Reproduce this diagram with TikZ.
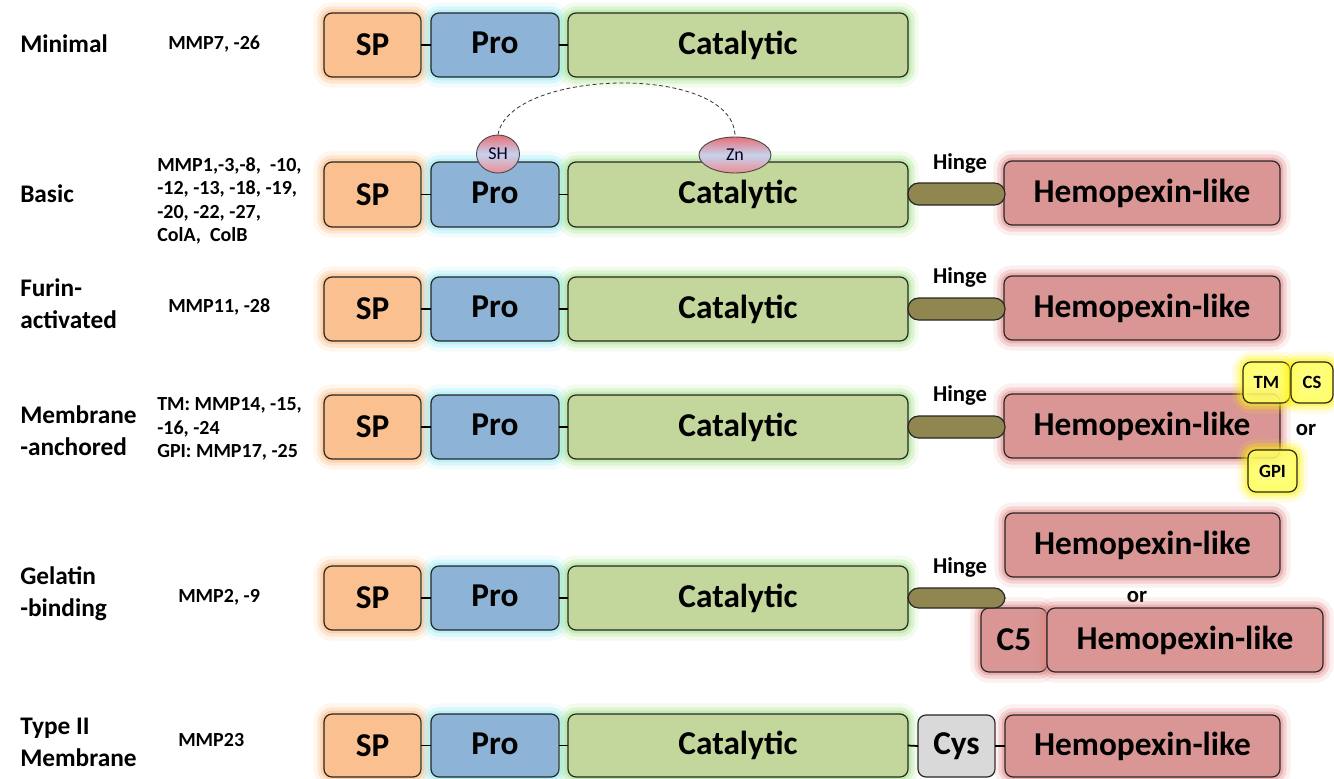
\documentclass[tikz,border=0pt]{standalone}
\usepackage{fontspec}
\setmainfont{Carlito}
\usetikzlibrary{shapes.geometric}

\definecolor{spfill}{HTML}{FAC08F}
\definecolor{profill}{HTML}{8DB4D6}
\definecolor{catfill}{HTML}{C3D69B}
\definecolor{hemfill}{HTML}{D99694}
\definecolor{hingefill}{HTML}{8F8650}
\definecolor{cysfill}{HTML}{D9D9D9}
\definecolor{anchfill}{HTML}{FFFF66}
\definecolor{ballred}{HTML}{E8707A}
\definecolor{ballblue}{HTML}{C6D2EC}

\tikzset{
  glow/.style={
    preaction={draw=#1,draw opacity=0.12,line width=16pt},
    preaction={draw=#1,draw opacity=0.25,line width=10pt},
    preaction={draw=#1,draw opacity=0.40,line width=5pt}},
  dombase/.style={draw=black!85, line width=0.9pt, rounded corners=6pt,
    inner sep=0pt, outer sep=0pt,
    font=\fontsize{25}{28}\selectfont\bfseries},
  spbox/.style={dombase, fill=spfill, glow=spfill!80!orange},
  probox/.style={dombase, fill=profill, glow=profill!50!cyan!60!white},
  catbox/.style={dombase, fill=catfill, glow=catfill!80!green},
  hembox/.style={dombase, fill=hemfill, glow=hemfill!85!red},
  cysbox/.style={dombase, fill=cysfill},
  anchbox/.style={dombase, fill=anchfill, fill opacity=0.85, text opacity=1,
    glow=yellow, font=\fontsize{14}{16}\selectfont\bfseries},
  hingeshape/.style={rectangle, rounded corners=8pt, draw=black!85,
    line width=0.9pt, fill=hingefill, inner sep=0pt, outer sep=0pt},
  ball/.style={ellipse, draw=black!70, line width=0.7pt, inner sep=0pt,
    top color=ballred, bottom color=ballred!80!white, middle color=ballblue,
    text=black!85!blue, font=\fontsize{13.5}{14}\selectfont},
  link/.style={draw=black, line width=1.3pt},
  rowname/.style={anchor=west, align=left, inner sep=0pt,
    font=\fontsize{19}{24}\selectfont\bfseries},
  members/.style={anchor=west, align=left, inner sep=0pt,
    font=\fontsize{15}{17.5}\selectfont\bfseries},
  hingetag/.style={inner sep=0pt, font=\fontsize{17}{18}\selectfont\bfseries},
  ortext/.style={inner sep=0pt, font=\fontsize{17}{20}\selectfont\bfseries}
}

% box given by its corners (x1,y1)-(x2,y2) in pixel units
\newcommand\dombox[7]{%
  \node[#6, minimum width={(#4-#2)*0.75pt}, minimum height={(#5-#3)*0.75pt}]
    (#1) at ({(#2+#4)/2},{(#3+#5)/2}) {#7};}
% labels of the signal peptide and propeptide sit a little off centre
\newcommand\splabel{\raisebox{-1.2pt}{SP}}
\newcommand\prolabel{\raisebox{3pt}{Pro}}

\begin{document}
\begin{tikzpicture}[x=0.75pt,y=-0.75pt]
\useasboundingbox (0,0) rectangle (1334,778);

% ---------- Minimal ----------
\node[rowname] (n1) at (20,44) {Minimal};
\node[members] (m1) at (168,44) {MMP7, -26};
\dombox{sp1}{324}{13}{421}{77}{spbox}{\splabel}
\dombox{pro1}{431}{13}{559}{77}{probox}{\prolabel}
\dombox{cat1}{568}{13}{908}{77}{catbox}{Catalytic}
\draw[link] (sp1.east) -- (pro1.west);
\draw[link] (pro1.east) -- (cat1.west);

% ---------- Basic ----------
\node[rowname] (n2) at (20,194) {Basic};
\node[members] (m2) at (157,201) {MMP1,-3,-8,\ \ -10,\\-12, -13, -18, -19,\\-20, -22, -27,\\ColA,\ \ ColB};
\dombox{sp2}{324}{162}{421}{227}{spbox}{\splabel}
\dombox{pro2}{431}{162}{559}{227}{probox}{\prolabel}
\dombox{cat2}{568}{162}{908}{227}{catbox}{Catalytic}
\dombox{hem2}{1004}{161}{1280}{225}{hembox}{Hemopexin-like}
\dombox{h2}{908}{183}{1005}{205}{hingeshape}{}
\node[hingetag] (t2) at (960,163) {Hinge};
\draw[link] (sp2.east) -- (pro2.west);
\draw[link] (pro2.east) -- (cat2.west);
\node[ball, minimum width=43*0.75pt, minimum height=38*0.75pt] (sh) at (498,154) {SH};
\node[ball, minimum width=72*0.75pt, minimum height=36*0.75pt] (zn) at (735,155) {Zn};
\draw[densely dashed, line width=0.6pt, black!80] (sh.north) .. controls (510,68) and (735,63) .. (zn.north);

% ---------- Furin-activated ----------
\node[rowname] (n3) at (20,304) {Furin-\\activated};
\node[members] (m3) at (168,307) {MMP11, -28};
\dombox{sp3}{324}{277}{421}{341}{spbox}{\splabel}
\dombox{pro3}{431}{277}{559}{341}{probox}{\prolabel}
\dombox{cat3}{568}{277}{908}{341}{catbox}{Catalytic}
\dombox{hem3}{1004}{276}{1280}{340}{hembox}{Hemopexin-like}
\dombox{h3}{908}{298}{1005}{320}{hingeshape}{}
\node[hingetag] (t3) at (960,277) {Hinge};
\draw[link] (sp3.east) -- (pro3.west);
\draw[link] (pro3.east) -- (cat3.west);

% ---------- Membrane-anchored ----------
\node[rowname] (n4) at (20,431) {Membrane\\-anchored};
\node[members] (m4) at (157,429) {TM: MMP14, -15,\\-16, -24\\GPI: MMP17, -25};
\dombox{sp4}{324}{395}{421}{459}{spbox}{\splabel}
\dombox{pro4}{431}{395}{559}{459}{probox}{\prolabel}
\dombox{cat4}{568}{395}{908}{459}{catbox}{Catalytic}
\dombox{hem4}{1004}{394}{1280}{458}{hembox}{Hemopexin-like}
\dombox{h4}{908}{416}{1005}{438}{hingeshape}{}
\node[hingetag] (t4) at (960,395) {Hinge};
\draw[link] (sp4.east) -- (pro4.west);
\draw[link] (pro4.east) -- (cat4.west);
\dombox{tm}{1243}{362}{1290}{403}{anchbox}{TM}
\dombox{cs}{1291}{362}{1333}{403}{anchbox}{CS}
\dombox{gpi}{1248}{450}{1297}{492}{anchbox}{GPI}
\node[ortext] (or4) at (1306,430) {or};

% ---------- Gelatin-binding ----------
\node[rowname] (n5) at (20,594) {Gelatin\\-binding};
\node[members] (m5) at (178,597) {MMP2, -9};
\dombox{sp5}{324}{566}{421}{630}{spbox}{\splabel}
\dombox{pro5}{431}{566}{559}{630}{probox}{\prolabel}
\dombox{cat5}{568}{566}{908}{630}{catbox}{Catalytic}
\draw[link] (sp5.east) -- (pro5.west);
\draw[link] (pro5.east) -- (cat5.west);
\dombox{hem5a}{1005}{513}{1280}{577}{hembox}{Hemopexin-like}
\node[ortext] (or5) at (1137,597) {or};
\dombox{c5}{981}{608}{1047}{672}{hembox}{C5}
\dombox{hem5b}{1047}{608}{1323}{672}{hembox}{Hemopexin-like}
\dombox{h5}{908}{588}{1005}{608}{hingeshape}{}
\node[hingetag] (t5) at (960,567) {Hinge};

% ---------- Type II Membrane ----------
\node[rowname] (n6) at (20,742) {Type II\\Membrane};
\node[members] (m6) at (178,740) {MMP23};
\dombox{sp6}{324}{714}{421}{777}{spbox}{\splabel}
\dombox{pro6}{431}{714}{559}{777}{probox}{\prolabel}
\dombox{cat6}{568}{714}{908}{777}{catbox}{Catalytic}
\dombox{cys}{918}{715}{995}{777}{cysbox}{Cys}
\dombox{hem6}{1005}{715}{1280}{777}{hembox}{Hemopexin-like}
\draw[link] (sp6.east) -- (pro6.west);
\draw[link] (pro6.east) -- (cat6.west);
\draw[link] (cat6.east) -- (cys.west);
\draw[link] (cys.east) -- (hem6.west);
\end{tikzpicture}
\end{document}
